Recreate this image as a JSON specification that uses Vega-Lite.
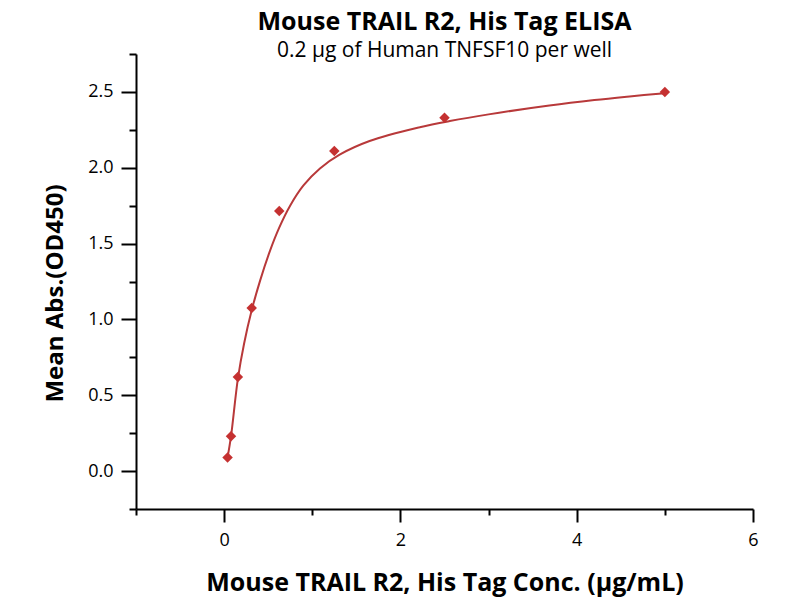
{
  "$schema": "https://vega.github.io/schema/vega-lite/v6.json",
  "width": 617,
  "height": 455,
  "autosize": "none",
  "padding": {"left": 136, "top": 54, "right": 47, "bottom": 91},
  "background": "white",
  "config": {"view": {"stroke": null}, "font": "Open Sans"},
  "title": {
    "text": "Mouse TRAIL R2, His Tag ELISA",
    "subtitle": "0.2 μg of Human TNFSF10 per well",
    "anchor": "middle",
    "font": "Open Sans",
    "fontSize": 25,
    "fontWeight": "bold",
    "color": "black",
    "subtitleFont": "Open Sans",
    "subtitleFontSize": 21,
    "subtitleColor": "black",
    "subtitlePadding": 5,
    "offset": -8
  },
  "datasets": {
    "curve": [
      {"conc": 0.039, "od": 0.09},
      {"conc": 0.078, "od": 0.23},
      {"conc": 0.156, "od": 0.61},
      {"conc": 0.226, "od": 0.84},
      {"conc": 0.3125, "od": 1.06},
      {"conc": 0.408, "od": 1.256},
      {"conc": 0.52, "od": 1.452},
      {"conc": 0.625, "od": 1.605},
      {"conc": 0.75, "od": 1.751},
      {"conc": 0.9, "od": 1.883},
      {"conc": 1.087, "od": 1.995},
      {"conc": 1.31, "od": 2.086},
      {"conc": 1.65, "od": 2.176},
      {"conc": 2.22, "od": 2.267},
      {"conc": 2.56, "od": 2.308},
      {"conc": 3.0, "od": 2.352},
      {"conc": 3.69, "od": 2.41},
      {"conc": 4.2, "od": 2.446},
      {"conc": 4.6, "od": 2.47},
      {"conc": 5.0, "od": 2.492}
    ],
    "points": [
      {"conc": 0.039, "od": 0.09},
      {"conc": 0.078, "od": 0.23},
      {"conc": 0.156, "od": 0.62},
      {"conc": 0.3125, "od": 1.075},
      {"conc": 0.625, "od": 1.715},
      {"conc": 1.25, "od": 2.11},
      {"conc": 2.5, "od": 2.33},
      {"conc": 5, "od": 2.5}
    ]
  },
  "layer": [
    {
      "data": {"name": "curve"},
      "mark": {"type": "line", "color": "#b8393a", "strokeWidth": 2, "interpolate": "catmull-rom"},
      "encoding": {
        "x": {
          "field": "conc",
          "type": "quantitative",
          "scale": {"domain": [-1, 6], "nice": false, "zero": false},
          "axis": {
            "orient": "bottom",
            "values": [-1, 0, 1, 2, 3, 4, 5, 6],
            "labelExpr": "datum.value % 2 === 0 ? format(datum.value, 'd') : ''",
            "grid": false,
            "domainColor": "black",
            "domainWidth": 2,
            "tickColor": "black",
            "tickWidth": 2,
            "tickSize": {"condition": {"test": "datum.value % 2 === 0", "value": 13}, "value": 6},
            "labelFont": "Open Sans",
            "labelFontSize": 18,
            "labelColor": "black",
            "labelPadding": 9,
            "labelFlush": false,
            "title": "Mouse TRAIL R2, His Tag Conc. (μg/mL)",
            "titleFont": "Open Sans",
            "titleFontSize": 25,
            "titleFontWeight": "bold",
            "titleColor": "black",
            "titlePadding": 21
          }
        },
        "y": {
          "field": "od",
          "type": "quantitative",
          "scale": {"domain": [-0.25, 2.75], "nice": false, "zero": false},
          "axis": {
            "orient": "left",
            "values": [0, 0.5, 1, 1.5, 2, 2.5],
            "format": ".1f",
            "grid": false,
            "domainColor": "black",
            "domainWidth": 2,
            "tickColor": "black",
            "tickWidth": 2,
            "tickSize": 15,
            "labelFont": "Open Sans",
            "labelFontSize": 18,
            "labelColor": "black",
            "labelPadding": 8,
            "labelFlush": false,
            "title": "Mean Abs.(OD450)",
            "titleFont": "Open Sans",
            "titleFontSize": 24,
            "titleFontWeight": "bold",
            "titleColor": "black",
            "titlePadding": 20,
            "titleY": 239
          }
        }
      }
    },
    {
      "data": {"name": "points"},
      "mark": {"type": "point", "shape": "diamond", "filled": true, "size": 110, "color": "#c53131", "opacity": 1},
      "encoding": {
        "x": {"field": "conc", "type": "quantitative"},
        "y": {
          "field": "od",
          "type": "quantitative",
          "axis": {
            "orient": "left",
            "values": [-0.25, 0.25, 0.75, 1.25, 1.75, 2.25, 2.75],
            "labels": false,
            "domain": false,
            "grid": false,
            "title": null,
            "tickColor": "black",
            "tickWidth": 2,
            "tickSize": 7
          }
        }
      }
    }
  ],
  "resolve": {"axis": {"y": "independent"}}
}
